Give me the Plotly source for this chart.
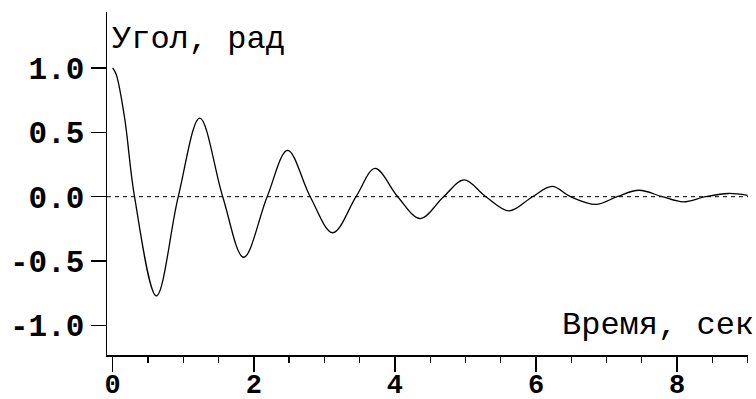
import plotly.graph_objects as go

# Values (extrema and zero crossings)
time_s = [0.0, 0.05, 0.17, 0.31, 0.62, 0.93, 1.235, 1.56, 1.857, 2.19, 2.48, 2.80, 3.12,
          3.45, 3.72, 4.04, 4.36, 4.69, 4.98, 5.29, 5.62, 5.95, 6.23, 6.49, 6.85,
          7.15, 7.46, 7.79, 8.09, 8.40, 8.73, 9.0]
angle_rad = [1.0, 0.95, 0.61, 0.0, -0.77, 0.0, 0.61, 0.0, -0.47, 0.0, 0.36, 0.0, -0.28,
             0.0, 0.22, 0.0, -0.17, 0.0, 0.13, 0.0, -0.11, 0.0, 0.08, 0.0, -0.06,
             0.0, 0.05, 0.0, -0.04, 0.0, 0.025, 0.01]

x_ticks = [0, 2, 4, 6, 8]
y_ticks = [-1.0, -0.5, 0.0, 0.5, 1.0]
y_title = "Угол, рад"
x_title = "Время, сек"

FONT = "Liberation Mono"

fig = go.Figure()
fig.add_trace(go.Scatter(
    x=time_s, y=angle_rad, mode="lines",
    line=dict(color="black", width=1.3, shape="spline", smoothing=1.0),
    showlegend=False, hoverinfo="skip",
))

fig.add_shape(type="line", xref="paper", yref="y", x0=0, x1=1, y0=0, y1=0,
              line=dict(color="black", width=1, dash="4px,4px"), layer="below")

fig.update_layout(
    width=756, height=399,
    margin=dict(l=107, r=8, t=12, b=43.5, pad=0),
    paper_bgcolor="white", plot_bgcolor="white",
    font=dict(family=FONT, size=31, color="black"),
    xaxis=dict(
        range=[-0.08, 9.005], showgrid=False, zeroline=False, automargin=False,
        showline=True, linecolor="black", linewidth=1.5,
        tickmode="array", tickvals=x_ticks, ticktext=[str(v) for v in x_ticks],
        ticks="outside", ticklen=15, tickwidth=1.5, tickcolor="black",
        ticklabelstandoff=-11,
        tickfont=dict(family=FONT, size=27, weight="bold"),
        minor=dict(dtick=0.5, tick0=0, ticks="outside", ticklen=6, tickwidth=1.2,
                   tickcolor="black", showgrid=False),
    ),
    yaxis=dict(
        range=[-1.229, 1.434], showgrid=False, zeroline=False, automargin=False,
        showline=True, linecolor="black", linewidth=1.5,
        tickmode="array", tickvals=y_ticks, ticktext=[f"{v:.1f}" for v in y_ticks],
        ticks="outside", ticklen=15, tickwidth=1.5, tickcolor="black",
        tickfont=dict(family=FONT, size=31, weight="bold"),
    ),
    annotations=[
        dict(text=y_title, xref="paper", yref="paper", x=0.004, y=0.921,
             xanchor="left", yanchor="middle", showarrow=False,
             font=dict(family=FONT, size=32, color="black")),
        dict(text=x_title, xref="paper", yref="paper", x=1.012, y=0.086,
             xanchor="right", yanchor="middle", showarrow=False,
             font=dict(family=FONT, size=32, color="black")),
    ],
)

fig.write_html(
    "out.html",
    config={"displayModeBar": False, "staticPlot": True},
    post_script="document.body.style.margin='0';document.body.style.overflow='hidden';",
)
